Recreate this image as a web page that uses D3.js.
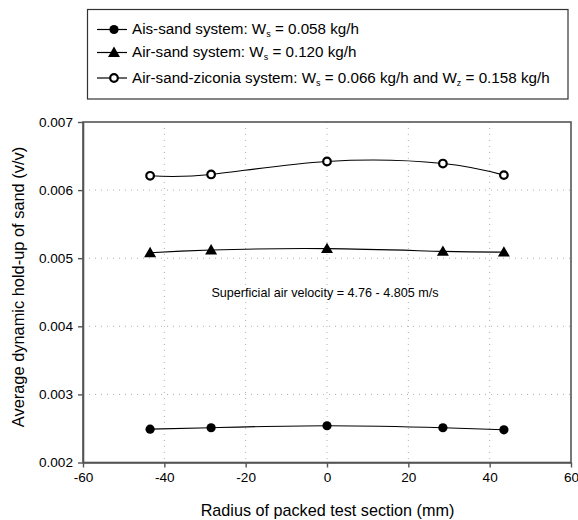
<!DOCTYPE html>
<html>
<head>
<meta charset="utf-8">
<script src="https://cdn.jsdelivr.net/npm/d3@7"></script>
<style>
  html, body { margin: 0; padding: 0; background: #fff; }
  svg { display: block; font-family: "Liberation Sans", Arial, sans-serif; }
</style>
</head>
<body>
<svg id="chart" width="578" height="520"></svg>
<script>
// Radial positions across the packed test section (mm)
const radius = [-43.5, -28.5, 0, 28.5, 43.5];

// Average dynamic hold-up of sand (v/v) for each system
const holdupAirSand1 = [0.00249, 0.00251, 0.00254, 0.00251, 0.00248];
const holdupAirSand2 = [0.00508, 0.00512, 0.00514, 0.00510, 0.00509];
const holdupAirSandZirconia = [0.00621, 0.00623, 0.00642, 0.00639, 0.00622];

const xTicks = [-60, -40, -20, 0, 20, 40, 60];
const yTicks = [0.002, 0.003, 0.004, 0.005, 0.006, 0.007];

const seriesNames = [
  ["Ais-sand system: W", "s", " = 0.058 kg/h"],
  ["Air-sand system: W", "s", " = 0.120 kg/h"],
  ["Air-sand-ziconia system: W", "s", " = 0.066 kg/h and W", "z", " = 0.158 kg/h"]
];

const series = [
  { values: holdupAirSand1, marker: "filled", label: seriesNames[0] },
  { values: holdupAirSand2, marker: "triangle", label: seriesNames[1] },
  { values: holdupAirSandZirconia, marker: "open", label: seriesNames[2] }
];

const svg = d3.select("#chart");
const plot = { left: 83, right: 571, top: 122, bottom: 462.5 };

const x = d3.scaleLinear().domain([-60, 60]).range([plot.left, plot.right]);
const y = d3.scaleLinear().domain([0.002, 0.007]).range([plot.bottom, plot.top]);

// Dotted grid lines
const grid = svg.append("g");
grid.selectAll("line.gx")
  .data(xTicks.filter(t => t > -60 && t < 60))
  .join("line")
  .attr("x1", d => x(d)).attr("x2", d => x(d))
  .attr("y1", plot.top).attr("y2", plot.bottom)
  .attr("stroke", "#b0b0b0").attr("stroke-width", 1)
  .attr("stroke-dasharray", "1,5");
grid.selectAll("line.gy")
  .data(yTicks.filter(t => t > 0.002 && t < 0.007))
  .join("line")
  .attr("x1", plot.left).attr("x2", plot.right)
  .attr("y1", d => y(d)).attr("y2", d => y(d))
  .attr("stroke", "#b0b0b0").attr("stroke-width", 1)
  .attr("stroke-dasharray", "1,5");

// Frame
svg.append("rect")
  .attr("x", plot.left).attr("y", plot.top)
  .attr("width", plot.right - plot.left).attr("height", plot.bottom - plot.top)
  .attr("fill", "none").attr("stroke", "#555").attr("stroke-width", 1.6);

// Axes
const xAxis = svg.append("g")
  .attr("transform", `translate(0,${plot.bottom})`)
  .call(d3.axisBottom(x).tickValues(xTicks).tickFormat(d => String(d))
    .tickSize(5).tickSizeOuter(0).tickPadding(5));
const yAxis = svg.append("g")
  .attr("transform", `translate(${plot.left},0)`)
  .call(d3.axisLeft(y).tickValues(yTicks).tickFormat(d => d.toFixed(3))
    .tickSize(5).tickSizeOuter(0).tickPadding(5));
[xAxis, yAxis].forEach(a => {
  a.select(".domain").attr("stroke", "#555").attr("stroke-width", 1.6);
  a.selectAll(".tick line").attr("stroke", "#555").attr("stroke-width", 1.4);
  a.selectAll(".tick text")
    .attr("fill", "#000")
    .style("font-size", "13.6px")
    .style("font-family", "'Liberation Sans', Arial, sans-serif");
});

// Axis titles
svg.append("text")
  .attr("x", 327.5).attr("y", 516)
  .attr("text-anchor", "middle")
  .style("font-size", "16.2px")
  .text("Radius of packed test section (mm)");
svg.append("text")
  .attr("transform", `translate(24,287) rotate(-90)`)
  .attr("text-anchor", "middle")
  .style("font-size", "16.4px")
  .text("Average dynamic hold-up of sand (v/v)");

// Annotation
svg.append("text")
  .attr("x", 325).attr("y", 297)
  .attr("text-anchor", "middle")
  .style("font-size", "12.6px")
  .text("Superficial air velocity = 4.76 - 4.805 m/s");

// Markers
function drawMarker(g, type, cx, cy) {
  if (type === "filled") {
    g.append("circle").attr("cx", cx).attr("cy", cy).attr("r", 4.6).attr("fill", "#000");
  } else if (type === "open") {
    g.append("circle").attr("cx", cx).attr("cy", cy).attr("r", 3.8)
      .attr("fill", "#fff").attr("stroke", "#000").attr("stroke-width", 2.2);
  } else {
    g.append("path")
      .attr("transform", `translate(${cx},${cy + 1})`)
      .attr("d", d3.symbol(d3.symbolTriangle, 62)())
      .attr("fill", "#000");
  }
}

const line = d3.line().x(d => x(d[0])).y(d => y(d[1])).curve(d3.curveNatural);

series.forEach(s => {
  const pts = radius.map((r, i) => [r, s.values[i]]);
  svg.append("path")
    .attr("d", line(pts))
    .attr("fill", "none").attr("stroke", "#000").attr("stroke-width", 1.1);
  const g = svg.append("g");
  pts.forEach(p => drawMarker(g, s.marker, x(p[0]), y(p[1])));
});

// Legend
const legend = svg.append("g");
legend.append("rect")
  .attr("x", 87.5).attr("y", 9.5).attr("width", 480.5).attr("height", 89.5)
  .attr("fill", "#fff").attr("stroke", "#333").attr("stroke-width", 1.2);
const rowY = [29.5, 52.5, 78];
series.forEach((s, i) => {
  const ry = rowY[i];
  legend.append("line")
    .attr("x1", 97).attr("x2", 127).attr("y1", ry).attr("y2", ry)
    .attr("stroke", "#000").attr("stroke-width", 1.2);
  drawMarker(legend, s.marker, 114, ry);
  const t = legend.append("text")
    .attr("x", 132).attr("y", ry + 4.8)
    .style("font-size", "15.2px");
  s.label.forEach((part, k) => {
    if (k % 2 === 1) {
      t.append("tspan").attr("dy", 3).style("font-size", "9px").text(part);
    } else {
      t.append("tspan").attr("dy", k === 0 ? 0 : -3).text(part);
    }
  });
});
</script>
</body>
</html>
